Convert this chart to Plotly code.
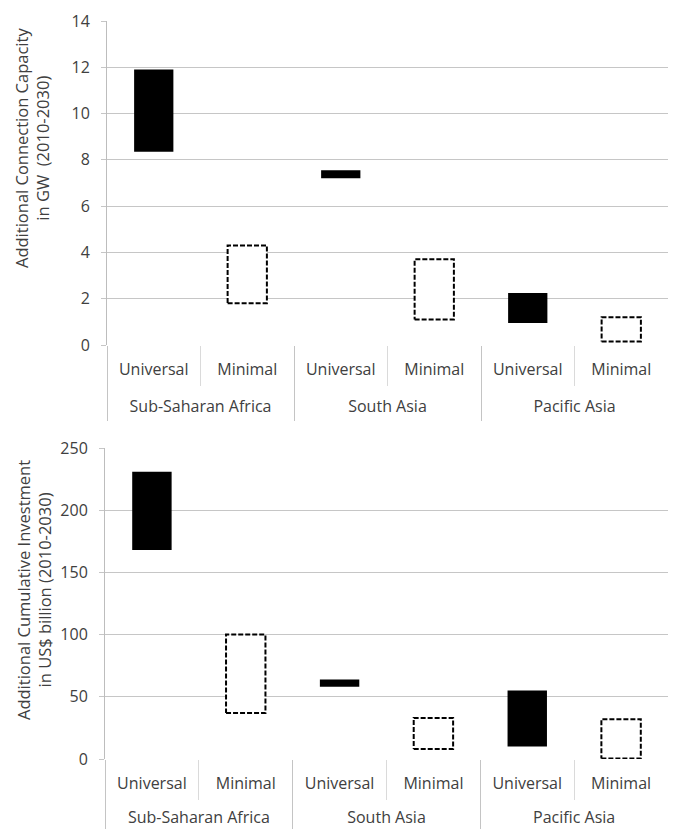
import plotly.graph_objects as go

regions = ["Sub-Saharan Africa", "South Asia", "Pacific Asia"]
scenarios = ["Universal", "Minimal"]

# Additional connection capacity (GW), ranges low-high
cap_low = [8.35, 1.8, 7.2, 1.1, 0.95, 0.15]
cap_high = [11.9, 4.3, 7.55, 3.7, 2.25, 1.2]

# Additional cumulative investment (US$ billion), ranges low-high
inv_low = [168, 37, 58, 8, 10, 0.5]
inv_high = [231, 100, 64, 33, 55, 32]

cap_ticks = [0, 2, 4, 6, 8, 10, 12, 14]
inv_ticks = [0, 50, 100, 150, 200, 250]

FONT = "'Open Sans', sans-serif"
TXT = "#404040"
GRID = "#c6c6c6"
BW = 0.42

xr = [r for r in regions for _ in scenarios]
xs = [s for _ in regions for s in scenarios]
n = len(xr)
ns = len(scenarios)
pos = list(range(n))
colors = ["black" if s == "Universal" else "white" for s in xs]
group_centers = [g * ns + (ns - 1) / 2 for g in range(len(regions))]
group_bounds = [g * ns - 0.5 for g in range(len(regions))]
inner_bounds = [g * ns + 0.5 for g in range(len(regions))]
RANGE = [-0.5, n - 0.5]

fig = go.Figure()


def add_panel(low, high, xa, ya, xo, xg):
    fig.add_trace(go.Bar(
        x=pos, y=[h - l for l, h in zip(low, high)], base=low,
        width=BW, marker=dict(color=colors, line=dict(width=0)),
        xaxis=xa, yaxis=ya, showlegend=False, hoverinfo="skip"))
    rx, ry = [], []
    for i in range(n):
        if xs[i] == "Minimal":
            rx += [i - BW / 2, i + BW / 2, i + BW / 2, i - BW / 2, i - BW / 2, None]
            ry += [low[i], low[i], high[i], high[i], low[i], None]
    fig.add_trace(go.Scatter(
        x=rx, y=ry, mode="lines", line=dict(color="black", width=2, dash="5px,2px"),
        xaxis=xo, yaxis=ya, showlegend=False, hoverinfo="skip"))
    fig.add_trace(go.Scatter(
        x=group_centers, y=[None] * len(group_centers), mode="none",
        xaxis=xg, yaxis=ya, showlegend=False, hoverinfo="skip"))


add_panel(cap_low, cap_high, "x", "y", "x3", "x5")
add_panel(inv_low, inv_high, "x2", "y2", "x4", "x6")

H = 829.0
W = 681.0
OFF = 8  # page body margin


def px_x(p):
    return (p - OFF) / W


def px_y(p):
    return (H - (p - OFF)) / H


def main_x(dom, anchor, divlen):
    return dict(
        domain=dom, anchor=anchor, range=RANGE, showgrid=False, zeroline=False,
        showline=False, automargin=False, fixedrange=True,
        tickmode="array", tickvals=group_bounds, ticktext=[""] * len(group_bounds),
        ticks="outside", ticklen=divlen, tickcolor="#c4c4c4", tickwidth=1,
        minor=dict(tickmode="array", tickvals=inner_bounds, ticks="outside",
                   ticklen=40, tickcolor="#dadada", tickwidth=1, showgrid=False))


def label_x(over, anchor, vals, texts, standoff):
    return dict(
        overlaying=over, anchor=anchor, range=RANGE, showgrid=False, zeroline=False,
        showline=False, ticks="", automargin=False, fixedrange=True,
        tickmode="array", tickvals=vals, ticktext=texts,
        ticklabelstandoff=standoff,
        tickfont=dict(family=FONT, size=16, color=TXT))


ycommon = dict(
    showgrid=True, gridcolor=GRID, gridwidth=1, showline=True,
    linecolor="#bdbdbd", linewidth=1, ticks="outside", ticklen=5,
    tickcolor=GRID, ticklabelstandoff=8, automargin=False, fixedrange=True,
    tickfont=dict(family=FONT, size=16, color=TXT), zeroline=False)

fig.update_layout(
    width=681, height=829,
    margin=dict(l=0, r=0, t=0, b=0, autoexpand=False),
    paper_bgcolor="white", plot_bgcolor="white",
    barmode="overlay",
    xaxis=main_x([px_x(107), px_x(668)], "y", 75),
    yaxis=dict(domain=[px_y(345), px_y(21)], anchor="x",
               range=[0, 14], tickvals=cap_ticks, **ycommon),
    xaxis2=main_x([px_x(105), px_x(668)], "y2", 72),
    yaxis2=dict(domain=[px_y(759), px_y(448)], anchor="x2",
                range=[0, 250], tickvals=inv_ticks, **ycommon),
    xaxis3=label_x("x", "y", pos, xs, 13),
    xaxis5=label_x("x", "y", group_centers, regions, 50),
    xaxis4=label_x("x2", "y2", pos, xs, 13),
    xaxis6=label_x("x2", "y2", group_centers, regions, 47),
    annotations=[
        dict(text="Additional Connection Capacity<br>in GW  (2010-2030)",
             x=px_x(32), y=px_y(148), xref="paper", yref="paper",
             xanchor="center", yanchor="middle",
             textangle=-90, showarrow=False,
             font=dict(family=FONT, size=16.5, color=TXT)),
        dict(text="Additional Cumulative Investment<br>in US$ billion (2010-2030)",
             x=px_x(34), y=px_y(590), xref="paper", yref="paper",
             xanchor="center", yanchor="middle",
             textangle=-90, showarrow=False,
             font=dict(family=FONT, size=16.5, color=TXT)),
    ],
)

fig.write_html("out.html")
